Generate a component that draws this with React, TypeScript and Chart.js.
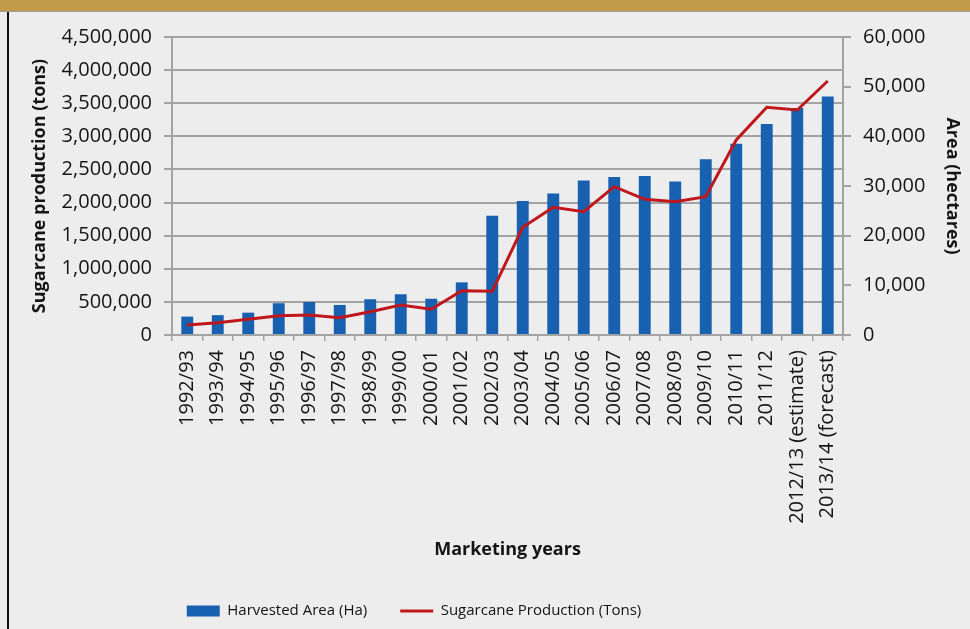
import React, { useEffect, useRef } from "react";
import { Chart, registerables } from "chart.js";

Chart.register(...registerables);

const categories = [
  "1992/93", "1993/94", "1994/95", "1995/96", "1996/97", "1997/98", "1998/99",
  "1999/00", "2000/01", "2001/02", "2002/03", "2003/04", "2004/05", "2005/06",
  "2006/07", "2007/08", "2008/09", "2009/10", "2010/11", "2011/12",
  "2012/13 (estimate)", "2013/14 (forecast)",
];

// Harvested area (hectares) – right axis
const harvestedArea = [
  3700, 4000, 4500, 6400, 6650, 6050, 7200, 8200, 7300, 10600, 24000,
  27000, 28500, 31100, 31800, 32000, 30900, 35400, 38500, 42500, 45700, 48000,
];

// Sugarcane production (tons) – left axis
const production = [
  151000, 186000, 237000, 292000, 302000, 262000, 352000, 453000, 388000,
  669000, 660000, 1626000, 1928000, 1862000, 2240000, 2049000, 2013000,
  2089000, 2945000, 3438000, 3398000, 3836000,
];

const leftAxisMax = 4500000;
const leftAxisStep = 500000;
const rightAxisMax = 60000;
const rightAxisStep = 10000;

const FONT = "'Open Sans', 'DejaVu Sans', sans-serif";
const GRID = "#a3a3a3";
const TEXT = "#151515";

const fmt = (v: number | string) => Number(v).toLocaleString("en-US");

// Shift the legend row left (as in the reference, where it is not centred on the page)
const legendShift = {
  id: "legendShift",
  afterLayout(chart: any) {
    const lg = chart.legend;
    if (!lg) return;
    lg.right = lg.right - 162;
  },
};

export default function App() {
  const ref = useRef<HTMLCanvasElement | null>(null);

  useEffect(() => {
    if (!ref.current) return;
    const chart = new Chart(ref.current, {
      type: "bar",
      data: {
        labels: categories,
        datasets: [
          {
            type: "bar",
            label: "Harvested Area (Ha)",
            data: harvestedArea,
            yAxisID: "y2",
            backgroundColor: "#1761b0",
            borderWidth: 0,
            barPercentage: 0.39,
            categoryPercentage: 1,
            order: 2,
            pointStyle: "rect",
          } as any,
          {
            type: "line",
            label: "Sugarcane Production (Tons)",
            data: production,
            yAxisID: "y",
            borderColor: "#c0171d",
            backgroundColor: "#c0171d",
            borderWidth: 3,
            pointRadius: 0,
            tension: 0,
            order: 1,
            pointStyle: "line",
          } as any,
        ],
      },
      options: {
        animation: false,
        responsive: false,
        maintainAspectRatio: false,
        layout: { padding: { left: 20, right: 0, top: 37, bottom: 0.5 } },
        plugins: {
          tooltip: { enabled: false },
          legend: {
            display: true,
            position: "bottom",
            labels: {
              usePointStyle: true,
              pointStyleWidth: 33,
              boxHeight: 11,
              padding: 33,
              color: TEXT,
              font: { family: FONT, size: 15 },
              sort: (a: any, b: any) => a.datasetIndex - b.datasetIndex,
            },
          },
        },
        scales: {
          x: {
            offset: true,
            grid: {
              display: true,
              drawOnChartArea: false,
              drawTicks: true,
              tickLength: 6,
              color: GRID,
              lineWidth: 1.5,
              offset: true,
            },
            border: { display: true, color: GRID, width: 2 },
            ticks: {
              autoSkip: false,
              maxRotation: 90,
              minRotation: 90,
              padding: 9,
              color: TEXT,
              font: { family: FONT, size: 20 },
            },
            title: {
              display: true,
              text: "Marketing years",
              color: TEXT,
              font: { family: FONT, size: 18, weight: "bold" },
              padding: { top: 0, bottom: 9.7 },
            },
            afterFit: (s: any) => {
              s.height = 235.5;
            },
          } as any,
          y: {
            position: "left",
            min: 0,
            max: leftAxisMax,
            ticks: {
              stepSize: leftAxisStep,
              padding: 12,
              color: TEXT,
              font: { family: FONT, size: 20 },
              callback: (v: any) => fmt(v),
            },
            grid: {
              color: GRID,
              lineWidth: 2,
              drawTicks: true,
              tickLength: 8,
            },
            border: { display: true, color: GRID, width: 2 },
            title: {
              display: true,
              text: "Sugarcane production (tons)",
              color: TEXT,
              font: { family: FONT, size: 18, weight: "bold" },
              padding: { top: 9, bottom: 0 },
            },
            afterFit: (s: any) => {
              s.width = 152;
            },
          } as any,
          y2: {
            position: "right",
            min: 0,
            max: rightAxisMax,
            ticks: {
              stepSize: rightAxisStep,
              padding: 12,
              color: TEXT,
              font: { family: FONT, size: 20 },
              callback: (v: any) => fmt(v),
            },
            grid: {
              drawOnChartArea: false,
              drawTicks: true,
              tickLength: 8,
              color: GRID,
              lineWidth: 2,
            },
            border: { display: true, color: GRID, width: 2 },
            title: {
              display: true,
              text: "Area (hectares)",
              color: TEXT,
              font: { family: FONT, size: 18, weight: "bold" },
              padding: { top: 7, bottom: 0 },
            },
            afterFit: (s: any) => {
              s.width = 127;
            },
          } as any,
        },
      },
      plugins: [legendShift],
    });
    return () => chart.destroy();
  }, []);

  return (
    <div
      style={{
        position: "fixed",
        left: 0,
        top: 0,
        width: 970,
        height: 629,
        overflow: "hidden",
        background: "#ededed",
      }}
    >
      <canvas
        ref={ref}
        width={970}
        height={629}
        style={{ position: "absolute", left: 0, top: 0, width: 970, height: 629 }}
      />
      <div
        style={{
          position: "absolute",
          left: 0,
          top: 0,
          width: 970,
          height: 11,
          background: "#c39a48",
          borderBottom: "1px solid #9a9a9a",
        }}
      />
      <div
        style={{
          position: "absolute",
          left: 7,
          top: 12,
          width: 2,
          height: 617,
          background: "#111",
        }}
      />
    </div>
  );
}
